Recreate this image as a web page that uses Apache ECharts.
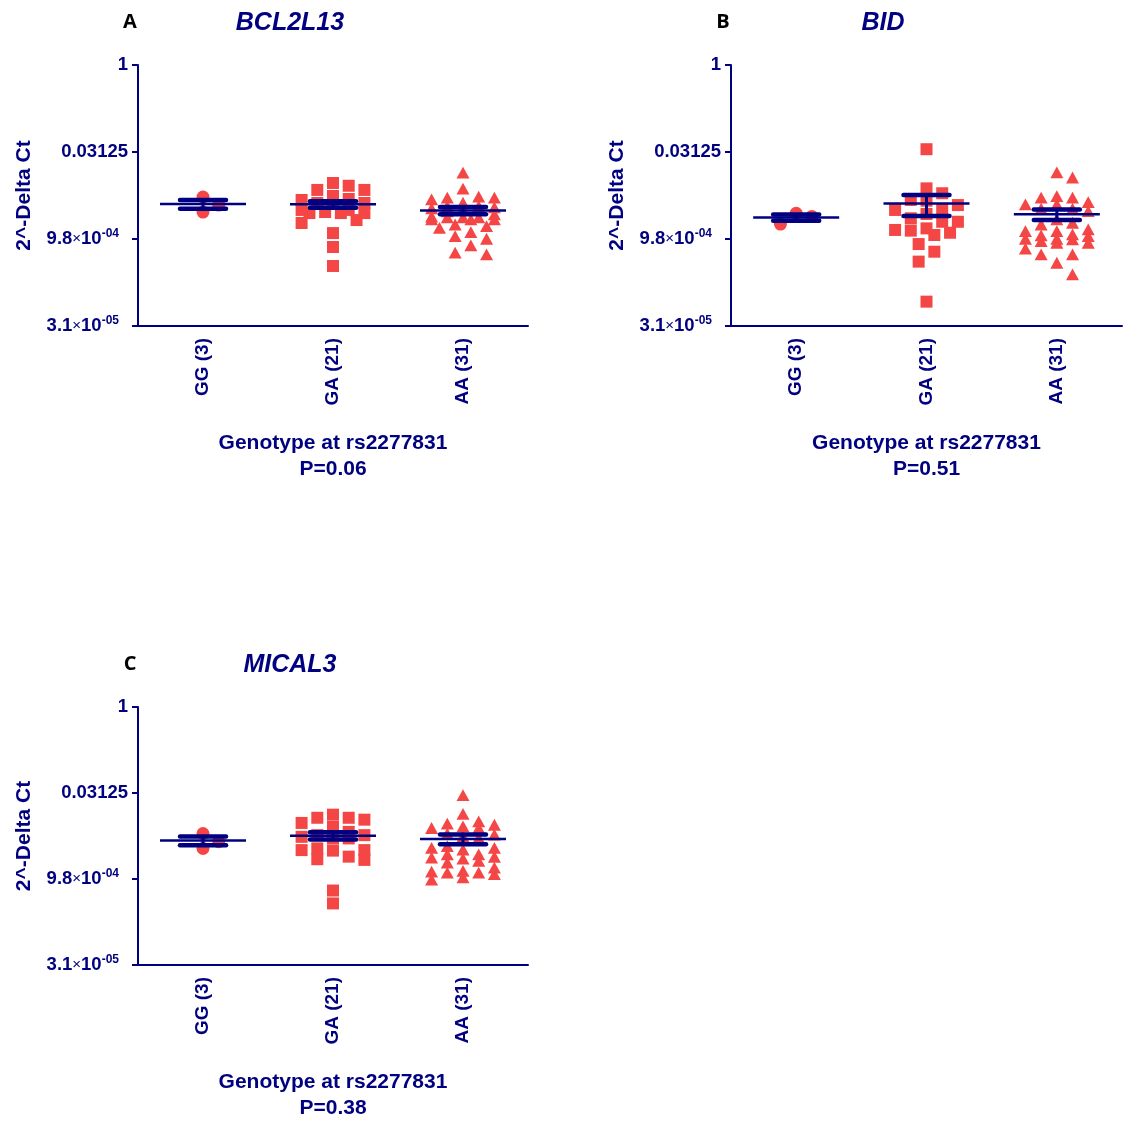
<!DOCTYPE html>
<html>
<head>
<meta charset="utf-8">
<script src="https://cdn.jsdelivr.net/npm/echarts@6/dist/echarts.min.js"></script>
<style>
html,body{margin:0;padding:0;background:#fff;overflow:hidden;width:100%;height:100%;}
#chart{width:1128px;height:1122px;position:absolute;left:0;top:0;}
</style>
</head>
<body>
<div id="chart"></div>
<script>
// ---- Data (delta Ct values; plotted value = 2^-deltaCt on a log2 axis) ----
const categories = ['GG (3)', 'GA (21)', 'AA (31)'];
const panelLetters = ['A', 'B', 'C'];
const geneNames = ['BCL2L13', 'BID', 'MICAL3'];
const pValues = ['P=0.06', 'P=0.51', 'P=0.38'];
const xAxisTitle = 'Genotype at rs2277831';
const yAxisTitle = '2^-Delta Ct';
const yTickExponents = [-15, -10, -5, 0];
const yTickLabels = ['3.1×10^-05', '9.8×10^-04', '0.03125', '1'];

const dCtA_GG = [7.59, 8.45, 8.05];
const dCtA_GA = [6.94,7.18,7.18,6.78,7.76,7.53,7.70,7.93,7.93,7.93,8.51,8.51,8.33,8.45,8.33,8.51,9.08,8.91,9.66,10.46,11.55];
const dCtA_AA = [6.22,7.14,7.66,7.76,7.66,7.60,7.95,8.14,8.33,8.79,8.62,8.91,8.79,8.79,8.91,8.74,8.91,9.20,9.29,9.39,9.64,9.87,10.02,10.40,10.92,10.82,8.22,8.28,8.33,8.45,8.16];

const dCtB_GG = [8.52, 9.14, 8.70];
const dCtB_GA = [4.84,7.09,7.37,7.76,8.05,7.80,8.33,8.33,8.56,8.81,9.01,9.01,9.48,9.64,9.39,9.52,9.77,10.29,10.73,11.30,13.60];
const dCtB_AA = [6.20,6.50,7.57,7.66,7.66,8.05,7.91,8.29,8.29,8.43,8.05,9.20,9.10,9.48,9.77,9.58,9.87,9.58,10.25,10.16,10.02,10.06,10.02,9.83,10.25,10.59,10.92,10.92,11.40,12.07,8.91];

const dCtC_GG = [7.36, 8.22, 7.83];
const dCtC_GA = [6.44,6.55,6.74,6.44,6.26,6.97,7.26,7.45,7.64,7.45,7.64,7.55,8.32,8.22,8.35,8.32,8.85,8.89,8.70,10.67,11.42];
const dCtC_AA = [5.16,6.25,6.68,6.88,7.07,6.97,6.82,7.07,7.40,7.45,7.64,7.55,8.22,8.32,8.12,8.22,8.79,8.98,8.60,9.08,8.85,8.74,8.60,9.37,9.56,9.61,9.66,9.75,10.07,9.94,9.66];

const panelData = [
  [dCtA_GG, dCtA_GA, dCtA_AA],
  [dCtB_GG, dCtB_GA, dCtB_AA],
  [dCtC_GG, dCtC_GA, dCtC_AA]
];

// ---- Layout / style ----
const NAVY = '#000080';
const RED = '#f54646';
const FONT = '"Liberation Sans", Arial, sans-serif';
const gridBoxes = [
  {left: 138, top: 65, width: 390, height: 261},
  {left: 731, top: 65, width: 391, height: 261},
  {left: 138, top: 707, width: 390, height: 261}
];
const Y_MIN = -15, Y_MAX = 0;
const shapes = ['circle', 'square', 'triangle'];

// beeswarm horizontal offsets (pixels) computed from values
function swarm(expVals, pxPerY) {
  const step = 7.85, minDx = 15, minDy = 12, maxK = 4;
  const idx = expVals.map((v, i) => i).sort((a, b) => expVals[b] - expVals[a]);
  const placed = [];
  const dx = new Array(expVals.length).fill(0);
  const cands = [0];
  for (let k = 1; k <= maxK; k++) { cands.push(k * step, -k * step); }
  for (const i of idx) {
    const py = expVals[i] * pxPerY;
    let best = null, bestScore = Infinity;
    for (const off of cands) {
      let score = 0;
      for (const p of placed) {
        const ox = minDx - Math.abs(p.x - off), oy = minDy - Math.abs(p.y - py);
        if (ox > 0 && oy > 0) score += ox * oy;
      }
      if (score === 0) { best = off; bestScore = 0; break; }
      if (score < bestScore - 1e-9) { bestScore = score; best = off; }
    }
    dx[i] = best; placed.push({x: best, y: py});
  }
  return dx;
}

function stats(dcts) {
  const v = dcts.map(d => Math.pow(2, -d));
  const n = v.length;
  const mean = v.reduce((a, b) => a + b, 0) / n;
  const sd = Math.sqrt(v.reduce((a, b) => a + (b - mean) * (b - mean), 0) / (n - 1));
  const sem = sd / Math.sqrt(n);
  return [Math.log2(mean), Math.log2(mean - sem), Math.log2(mean + sem)];
}

function yLabel(val) {
  const i = yTickExponents.indexOf(Math.round(val));
  if (i < 0) return '';
  const s = yTickLabels[i];
  if (s.indexOf('×') >= 0) {
    const parts = s.split('×');
    const be = parts[1].split('^');
    return '{a|' + parts[0] + '}{x|×}{a|' + be[0] + '}{s|' + be[1] + '}';
  }
  return '{a|' + s + '}';
}

const grids = [], xAxes = [], yAxes = [], series = [], graphics = [];

gridBoxes.forEach((g, p) => {
  grids.push({left: g.left, top: g.top, width: g.width, height: g.height, containLabel: false});
  xAxes.push({
    type: 'category', gridIndex: p, data: categories, boundaryGap: true,
    axisLine: {onZero: false, lineStyle: {color: NAVY, width: 2}},
    axisTick: {alignWithLabel: true, length: 7, lineStyle: {color: NAVY, width: 2}},
    axisLabel: {rotate: 90, margin: 12, color: NAVY, fontSize: 19, fontWeight: 'bold', fontFamily: FONT},
    name: xAxisTitle + '\n' + pValues[p], nameLocation: 'middle', nameGap: 104,
    nameTextStyle: {color: NAVY, fontSize: 21, fontWeight: 'bold', fontFamily: FONT, lineHeight: 26}
  });
  yAxes.push({
    type: 'value', gridIndex: p, min: Y_MIN, max: Y_MAX, interval: 5,
    splitLine: {show: false},
    axisLine: {show: true, onZero: false, lineStyle: {color: NAVY, width: 2}},
    axisTick: {show: true, length: 6, lineStyle: {color: NAVY, width: 2}},
    axisLabel: {
      margin: 10, formatter: yLabel,
      rich: {
        a: {fontSize: 18.5, fontWeight: 'bold', color: NAVY, fontFamily: FONT, lineHeight: 22},
        x: {fontSize: 15, fontWeight: 'normal', color: NAVY, fontFamily: FONT},
        s: {fontSize: 12, fontWeight: 'bold', color: NAVY, fontFamily: FONT, verticalAlign: 'top', lineHeight: 12, padding: [0, 9, 0, 0]}
      }
    },
    name: yAxisTitle, nameLocation: 'middle', nameRotate: 90, nameGap: 103,
    nameTextStyle: {color: NAVY, fontSize: 21, fontWeight: 'bold', fontFamily: FONT}
  });

  const pxPerY = g.height / (Y_MAX - Y_MIN);
  const pts = [];
  const bars = [];
  panelData[p].forEach((dcts, c) => {
    const exps = dcts.map(d => -d);
    const dx = swarm(exps, pxPerY);
    exps.forEach((e, i) => pts.push([c, e, dx[i], c]));
    const st = stats(dcts);
    bars.push([c, st[0], st[1], st[2]]);
  });

  series.push({
    type: 'custom', xAxisIndex: p, yAxisIndex: p, data: pts, z: 2, silent: true,
    renderItem: function (params, api) {
      const pt = api.coord([api.value(0), api.value(1)]);
      const x = pt[0] + api.value(2), y = pt[1];
      const kind = shapes[api.value(3)];
      const style = {fill: RED};
      if (kind === 'circle') return {type: 'circle', shape: {cx: x, cy: y, r: 6.5}, style};
      if (kind === 'square') return {type: 'rect', shape: {x: x - 6, y: y - 6, width: 12, height: 12}, style};
      return {type: 'polygon', shape: {points: [[x, y - 6.5], [x + 6.5, y + 5.3], [x - 6.5, y + 5.3]]}, style};
    }
  });
  series.push({
    type: 'custom', xAxisIndex: p, yAxisIndex: p, data: bars, z: 5, silent: true,
    renderItem: function (params, api) {
      const m = api.coord([api.value(0), api.value(1)]);
      const lo = api.coord([api.value(0), api.value(2)]);
      const hi = api.coord([api.value(0), api.value(3)]);
      const cx = m[0];
      return {
        type: 'group', children: [
          {type: 'line', shape: {x1: cx, y1: lo[1], x2: cx, y2: hi[1]}, style: {stroke: NAVY, lineWidth: 3}},
          {type: 'line', shape: {x1: cx - 23, y1: hi[1], x2: cx + 23, y2: hi[1]}, style: {stroke: NAVY, lineWidth: 4.5, lineCap: 'round'}},
          {type: 'line', shape: {x1: cx - 23, y1: lo[1], x2: cx + 23, y2: lo[1]}, style: {stroke: NAVY, lineWidth: 4.5, lineCap: 'round'}},
          {type: 'line', shape: {x1: cx - 43, y1: m[1], x2: cx + 43, y2: m[1]}, style: {stroke: NAVY, lineWidth: 2.5}}
        ]
      };
    }
  });

  graphics.push({type: 'text', x: g.left - 8, y: g.top - 43, style: {
    text: panelLetters[p], fill: '#000', font: 'bold 20px "Open Sans", sans-serif', textAlign: 'center', textVerticalAlign: 'middle'}});
  graphics.push({type: 'text', x: g.left + 152, y: g.top - 42, style: {
    text: geneNames[p], fill: NAVY, font: 'italic bold 25px ' + FONT, textAlign: 'center', textVerticalAlign: 'middle'}});
});

const chart = echarts.init(document.getElementById('chart'), null, {renderer: 'canvas', width: 1128, height: 1122});
chart.setOption({
  animation: false,
  backgroundColor: '#fff',
  grid: grids, xAxis: xAxes, yAxis: yAxes, series: series, graphic: graphics
});
</script>
</body>
</html>
